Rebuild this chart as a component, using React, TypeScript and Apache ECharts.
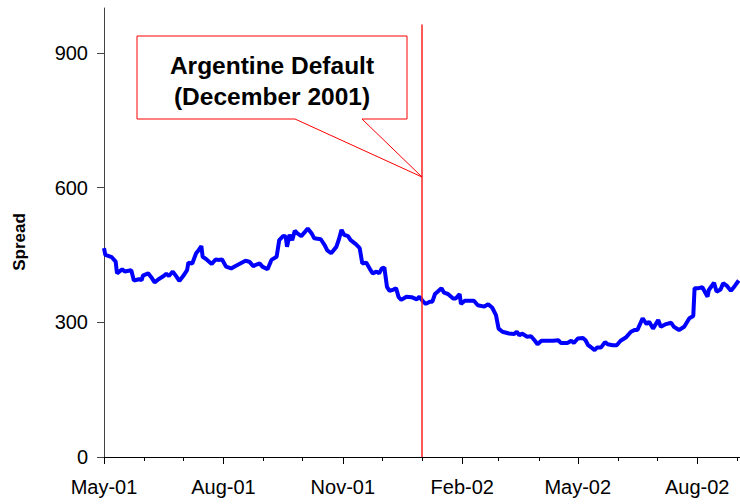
import React, { useEffect, useRef } from "react";
import * as echarts from "echarts";

const DATES: string[] = [
  "2001-05-01","2001-05-02","2001-05-07","2001-05-10","2001-05-11","2001-05-15","2001-05-17","2001-05-22","2001-05-24","2001-05-28","2001-05-30","2001-05-31",
  "2001-06-04","2001-06-07","2001-06-09","2001-06-12","2001-06-16","2001-06-18","2001-06-20","2001-06-23","2001-06-26","2001-06-28",
  "2001-07-01","2001-07-04","2001-07-05","2001-07-08","2001-07-11","2001-07-13","2001-07-15","2001-07-16","2001-07-19","2001-07-23","2001-07-26","2001-07-28","2001-07-31",
  "2001-08-03","2001-08-07","2001-08-10","2001-08-14","2001-08-18","2001-08-21","2001-08-24","2001-08-26","2001-08-29","2001-08-31",
  "2001-09-04","2001-09-07","2001-09-11","2001-09-13","2001-09-16","2001-09-18","2001-09-19","2001-09-21","2001-09-23","2001-09-25","2001-09-27","2001-09-30",
  "2001-10-03","2001-10-05","2001-10-08","2001-10-10","2001-10-15","2001-10-18","2001-10-20","2001-10-23","2001-10-27","2001-10-29","2001-10-31",
  "2001-11-02","2001-11-05","2001-11-07","2001-11-11","2001-11-14","2001-11-16","2001-11-19","2001-11-22","2001-11-24","2001-11-27","2001-11-29",
  "2001-12-01","2001-12-03","2001-12-05","2001-12-07","2001-12-10","2001-12-12","2001-12-14","2001-12-16","2001-12-20","2001-12-24","2001-12-28","2001-12-30",
  "2002-01-02","2002-01-04","2002-01-07","2002-01-09","2002-01-11","2002-01-13","2002-01-16","2002-01-18","2002-01-21","2002-01-25","2002-01-27","2002-01-30","2002-01-31",
  "2002-02-03","2002-02-10","2002-02-13","2002-02-18","2002-02-21","2002-02-24","2002-02-27",
  "2002-03-01","2002-03-04","2002-03-09","2002-03-13","2002-03-15","2002-03-17","2002-03-19","2002-03-23","2002-03-26","2002-03-29","2002-03-31",
  "2002-04-03","2002-04-12","2002-04-16","2002-04-18","2002-04-23","2002-04-26","2002-04-28",
  "2002-05-01","2002-05-05","2002-05-07","2002-05-09","2002-05-11","2002-05-14","2002-05-16","2002-05-19","2002-05-22","2002-05-24","2002-05-28","2002-05-31",
  "2002-06-03","2002-06-07","2002-06-11","2002-06-14","2002-06-16","2002-06-20","2002-06-23","2002-06-25","2002-06-28",
  "2002-07-02","2002-07-04","2002-07-08","2002-07-12","2002-07-14","2002-07-18","2002-07-22","2002-07-26","2002-07-29","2002-07-30",
  "2002-08-02","2002-08-05","2002-08-09","2002-08-10","2002-08-14","2002-08-16","2002-08-19","2002-08-21","2002-08-24","2002-08-27","2002-08-30","2002-09-02",
];

const SPREAD: number[] = [
  465,450,445,435,409,418,413,416,393,396,394,404,
  409,398,389,396,403,408,403,413,401,392,
  403,416,433,431,454,461,470,446,440,430,440,439,440,
  424,420,425,431,437,435,425,428,431,424,
  418,439,446,483,492,491,468,495,483,504,498,492,
  502,509,498,487,485,472,460,454,468,485,506,
  495,492,483,474,465,431,433,418,409,413,409,
  420,422,379,370,373,376,356,350,357,356,351,357,
  346,341,346,346,363,368,376,366,363,353,353,363,341,
  348,348,338,335,340,333,316,
  286,279,275,274,279,271,275,268,269,259,251,
  259,259,260,254,254,259,254,
  264,265,260,249,245,238,244,244,256,251,249,249,
  259,266,279,283,283,309,296,301,286,
  305,290,296,299,290,283,290,309,314,376,
  376,378,357,372,388,368,373,387,381,370,381,393,
];

const MONTH_TICKS: string[] = [
  "2001-05-01","2001-06-01","2001-07-01","2001-08-01","2001-09-01","2001-10-01","2001-11-01","2001-12-01",
  "2002-01-01","2002-02-01","2002-03-01","2002-04-01","2002-05-01","2002-06-01","2002-07-01","2002-08-01","2002-09-01",
];
const LABEL_TICKS: string[] = ["2001-05-01","2001-08-01","2001-11-01","2002-02-01","2002-05-01","2002-08-01"];
const Y_TICKS: number[] = [0, 300, 600, 900];
const X_MIN = "2001-05-01";
const X_MAX = "2002-09-03";
const Y_MAX = 1000;
const DEFAULT_DATE = "2002-01-01";
const DEFAULT_LINE_TOP = 963;
const MONTHS = ["Jan","Feb","Mar","Apr","May","Jun","Jul","Aug","Sep","Oct","Nov","Dec"];

const DAY = 86400000;
const ts = (s: string): number => {
  const [y, m, d] = s.split("-").map(Number);
  return Date.UTC(y, m - 1, d) / DAY;
};

const FONT = '"Liberation Sans", Arial, sans-serif';

export default function App() {
  const ref = useRef<HTMLDivElement>(null);
  useEffect(() => {
    if (!ref.current) return;
    const chart = echarts.init(ref.current, null, { renderer: "svg" });
    const data = DATES.map((d, i) => [ts(d), SPREAD[i]]);
    const fmt = (v: number) => {
      const dt = new Date(Math.round(v) * DAY);
      return MONTHS[dt.getUTCMonth()] + "-" + String(dt.getUTCFullYear() % 100).padStart(2, "0");
    };
    chart.setOption({
      animation: false,
      grid: { left: 104, right: 0, top: 8, bottom: 47, containLabel: false },
      xAxis: [
        {
          type: "value",
          position: "bottom",
          min: ts(X_MIN),
          max: ts(X_MAX),
          axisLine: { show: true, onZero: false, lineStyle: { color: "#000", width: 1 } },
          axisTick: { show: true, length: 4, inside: false, customValues: MONTH_TICKS.map(ts), lineStyle: { color: "#000" } },
          axisLabel: { show: false },
          splitLine: { show: false },
        },
        {
          type: "value",
          position: "bottom",
          min: ts(X_MIN),
          max: ts(X_MAX),
          axisLine: { show: false, onZero: false },
          axisTick: { show: true, length: 7, inside: false, customValues: LABEL_TICKS.map(ts), lineStyle: { color: "#000" } },
          axisLabel: {
            show: true,
            customValues: LABEL_TICKS.map(ts),
            formatter: (v: number) => fmt(v),
            fontFamily: FONT,
            fontSize: 20,
            color: "#000",
            margin: 20,
            hideOverlap: false,
          },
          splitLine: { show: false },
        },
      ],
      yAxis: {
        type: "value",
        min: 0,
        max: Y_MAX,
        axisLine: { show: true, lineStyle: { color: "#444", width: 1 } },
        axisTick: { show: true, length: 7, customValues: Y_TICKS, lineStyle: { color: "#444" } },
        axisLabel: { customValues: Y_TICKS, fontFamily: FONT, fontSize: 20, color: "#000", margin: 16 },
        splitLine: { show: false },
      },
      series: [
        {
          type: "line",
          xAxisIndex: 0,
          data,
          showSymbol: false,
          symbol: "none",
          lineStyle: { color: "#0000ff", width: 4 },
          markLine: {
            silent: true,
            symbol: "none",
            label: { show: false },
            lineStyle: { color: "#ff2020", width: 1.5, type: "solid" },
            data: [[{ coord: [ts(DEFAULT_DATE), 0] }, { coord: [ts(DEFAULT_DATE), DEFAULT_LINE_TOP] }]],
          },
        },
      ],
      graphic: [
        {
          type: "polygon",
          shape: {
            points: [
              [137, 36], [407, 36], [407, 119], [362, 119], [422, 177], [295, 119], [137, 119],
            ],
          },
          style: { fill: "#fff", stroke: "#ff0000", lineWidth: 1 },
          z: 10,
        },
        {
          type: "text",
          x: 272,
          y: 81,
          style: {
            text: "Argentine Default\n(December 2001)",
            font: `bold 24.5px ${FONT}`,
            fill: "#000",
            align: "center",
            verticalAlign: "middle",
            lineHeight: 31,
          },
          z: 11,
        },
        {
          type: "text",
          x: 19,
          y: 242,
          rotation: Math.PI / 2,
          style: {
            text: "Spread",
            font: `bold 17px ${FONT}`,
            fill: "#000",
            align: "center",
            verticalAlign: "middle",
          },
        },
      ],
    });
    return () => chart.dispose();
  }, []);
  return (
    <div
      ref={ref}
      style={{ position: "fixed", left: 0, top: 0, width: 740, height: 504, background: "#fff" }}
    />
  );
}
